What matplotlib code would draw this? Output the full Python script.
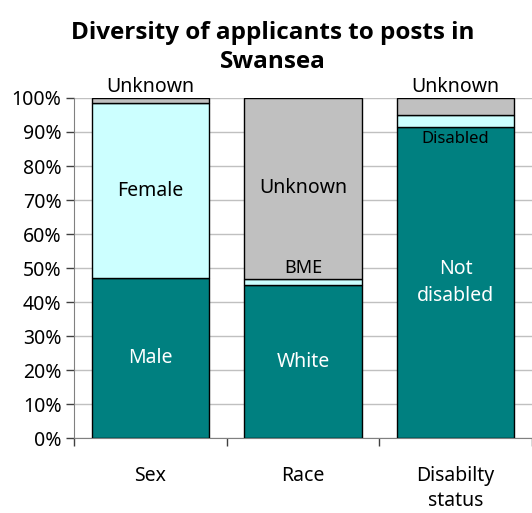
import matplotlib
matplotlib.use("Agg")
import matplotlib.pyplot as plt
import numpy as np

plt.rcParams['font.family'] = ['Noto Sans', 'DejaVu Sans']

categories = ["Sex", "Race", "Disabilty\nstatus"]
# stacked shares (percent), bottom to top
main_vals = [47.1, 45.0, 91.5]      # Male / White / Not disabled
minor_vals = [51.3, 1.8, 3.5]       # Female / BME / Disabled
unknown_vals = [1.6, 53.2, 5.0]     # Unknown
main_names = ["Male", "White", "Not\ndisabled"]
minor_names = ["Female", "BME", "Disabled"]
unknown_name = "Unknown"
yticks = np.arange(0, 101, 10)

teal = "#008080"
cyan = "#CCFFFF"
grey = "#C0C0C0"

fig = plt.figure(figsize=(5.32, 5.13), dpi=100)
ax = fig.add_axes([0.139, 0.146, 0.861, 0.663])

x = np.arange(len(categories))
w = 0.77
main = np.array(main_vals)
minor = np.array(minor_vals)
unk = np.array(unknown_vals)

ax.bar(x, main, w, color=teal, edgecolor="black", linewidth=1, zorder=3)
ax.bar(x, minor, w, bottom=main, color=cyan, edgecolor="black", linewidth=1, zorder=3)
ax.bar(x, unk, w, bottom=main + minor, color=grey, edgecolor="black", linewidth=1, zorder=3)

fs = 14
# main segment labels (white, centred)
for xi, v, name in zip(x, main, main_names):
    ax.text(xi, v / 2, name, ha="center", va="center", color="white", fontsize=fs,
            linespacing=1.5, zorder=4)

# minor segment labels
ax.text(x[0], main[0] + minor[0] / 2, minor_names[0], ha="center", va="center",
        color="black", fontsize=fs, zorder=4)
ax.text(x[1], main[1] + minor[1] + 0.5, minor_names[1], ha="center", va="bottom",
        color="black", fontsize=fs - 1, zorder=4)
ax.text(x[2], main[2] - 1.2, minor_names[2], ha="center", va="top",
        color="black", fontsize=fs - 2, zorder=4)

# unknown labels
ax.text(x[0], 100.2, unknown_name, ha="center", va="bottom", color="black", fontsize=fs)
ax.text(x[1], main[1] + minor[1] + unk[1] / 2, unknown_name, ha="center", va="center",
        color="black", fontsize=fs, zorder=4)
ax.text(x[2], 100.2, unknown_name, ha="center", va="bottom", color="black", fontsize=fs)

ax.set_xlim(-0.5, len(categories) - 0.5)
ax.set_ylim(0, 100)
ax.set_yticks(yticks)
ax.set_yticklabels([f"{t}%" for t in yticks], fontsize=fs)
ax.yaxis.grid(True, color="#C0C0C0", linewidth=1, zorder=0)
ax.set_axisbelow(True)

ax.set_xticks(x)
ax.set_xticklabels(categories, fontsize=fs, linespacing=1.35)
ax.set_xticks(np.arange(-0.5, len(categories) + 0.5, 1), minor=True)
ax.tick_params(axis="x", which="major", length=0, pad=20)
ax.tick_params(axis="x", which="minor", length=6, width=1, color="#404040", direction="out")
ax.tick_params(axis="y", length=6, width=1, color="#404040", direction="out", pad=3)
for lbl in ax.get_xticklabels():
    lbl.set_verticalalignment("top")

for s in ["top", "right"]:
    ax.spines[s].set_visible(False)
ax.spines["left"].set_color("#808080")
ax.spines["bottom"].set_color("#808080")

fig.text(0.512, 0.96, "Diversity of applicants to posts in\nSwansea", ha="center",
         va="top", fontsize=17.5, fontweight="bold", family=["Open Sans", "DejaVu Sans"],
         linespacing=1.3)

fig.savefig("out.png", dpi=100)
